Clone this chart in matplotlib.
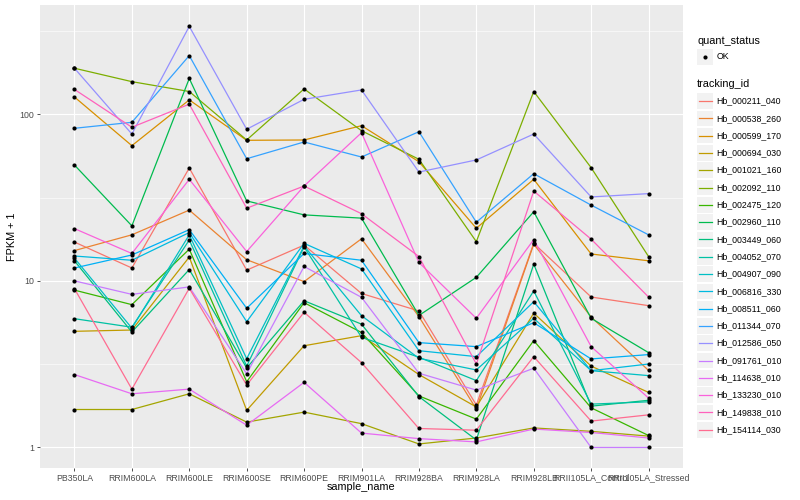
import matplotlib
matplotlib.use('Agg')
import matplotlib.pyplot as plt
from matplotlib.patches import Rectangle
from matplotlib.ticker import NullFormatter
import numpy as np

# ----------------------------------------------------------------------------------------------------------------------
# DATA (FPKM + 1)
# ----------------------------------------------------------------------------------------------------------------------

samples = ['PB350LA', 'RRIM600LA', 'RRIM600LE', 'RRIM600SE', 'RRIM600PE', 'RRIM901LA',
           'RRIM928BA', 'RRIM928LA', 'RRIM928LB', 'RRII105LA_Control', 'RRII105LA_Stressed']

hb_000211_040 = [17.1, 11.95, 47.6, 11.6, 16.4, 8.4, 6.6, 1.8, 16.8, 8.0, 7.1]
hb_000538_260 = [15.2, 18.9, 26.6, 13.4, 9.9, 17.9, 6.1, 1.7, 16.6, 6.07, 2.9]
hb_000599_170 = [127, 64.8, 122, 69.8, 70.1, 85.4, 51.9, 20.7, 40.7, 14.5, 13.2]
hb_000694_030 = [4.98, 5.07, 13.9, 1.67, 4.08, 4.69, 2.74, 1.75, 6.4, 3.08, 2.14]
hb_001021_160 = [1.69, 1.69, 2.10, 1.42, 1.63, 1.39, 1.05, 1.14, 1.31, 1.25, 1.17]
hb_002092_110 = [189, 157, 137, 70.1, 142, 79.7, 53.7, 17.2, 137, 47.8, 14.0]
hb_002475_120 = [8.8, 7.2, 15.5, 2.48, 7.4, 4.9, 2.04, 1.48, 4.38, 1.73, 1.18]
hb_002960_110 = [49.6, 21.4, 164, 30.2, 24.9, 23.8, 6.2, 10.5, 26.0, 5.96, 3.71]
hb_003449_060 = [13.2, 4.93, 11.7, 3.0, 7.6, 5.5, 2.02, 1.11, 12.6, 1.77, 1.92]
hb_004052_070 = [5.93, 5.27, 17.6, 3.08, 16.0, 4.59, 3.48, 2.52, 8.7, 1.82, 1.88]
hb_004907_090 = [13.7, 5.2, 18.9, 3.41, 16.2, 6.18, 3.43, 2.92, 5.96, 2.89, 2.70]
hb_006816_330 = [14.1, 13.3, 19.5, 5.69, 16.8, 11.8, 3.81, 3.51, 7.5, 2.89, 3.17]
hb_008511_060 = [11.95, 14.3, 20.3, 6.85, 14.6, 13.3, 4.26, 4.03, 5.61, 3.40, 3.61]
hb_011344_070 = [82.4, 89.5, 225, 54.1, 68.2, 55.4, 78.6, 22.5, 44.0, 28.5, 18.9]
hb_012586_050 = [189, 76.1, 337, 81.3, 123, 140, 45.0, 53.2, 76.1, 31.9, 33.4]
hb_091761_010 = [10.0, 8.3, 9.2, 2.77, 12.2, 7.97, 2.79, 2.21, 2.99, 1.0, 1.0]
hb_114638_010 = [2.74, 2.10, 2.24, 1.36, 2.46, 1.22, 1.13, 1.08, 1.29, 1.23, 1.14]
hb_133230_010 = [20.6, 14.6, 40.7, 15.0, 37.1, 77.5, 12.9, 5.96, 17.7, 4.03, 1.98]
hb_149838_010 = [141, 83.6, 115, 27.3, 37.1, 25.3, 14.0, 3.17, 34.6, 17.8, 8.0]
hb_154114_030 = [8.98, 2.24, 9.03, 2.37, 6.48, 3.23, 1.30, 1.27, 3.51, 1.44, 1.57]

tracking_ids = ['Hb_000211_040', 'Hb_000538_260', 'Hb_000599_170', 'Hb_000694_030', 'Hb_001021_160',
                'Hb_002092_110', 'Hb_002475_120', 'Hb_002960_110', 'Hb_003449_060', 'Hb_004052_070',
                'Hb_004907_090', 'Hb_006816_330', 'Hb_008511_060', 'Hb_011344_070', 'Hb_012586_050',
                'Hb_091761_010', 'Hb_114638_010', 'Hb_133230_010', 'Hb_149838_010', 'Hb_154114_030']
series = [hb_000211_040, hb_000538_260, hb_000599_170, hb_000694_030, hb_001021_160,
          hb_002092_110, hb_002475_120, hb_002960_110, hb_003449_060, hb_004052_070,
          hb_004907_090, hb_006816_330, hb_008511_060, hb_011344_070, hb_012586_050,
          hb_091761_010, hb_114638_010, hb_133230_010, hb_149838_010, hb_154114_030]

# ggplot default hue palette, 20 levels
colors = ['#F8766D', '#EA8331', '#D89000', '#C09B00', '#A3A500', '#7CAE00', '#39B600', '#00BB4E', '#00BF7D', '#00C1A3',
          '#00BFC4', '#00BAE0', '#00B0F6', '#35A2FF', '#9590FF', '#C77CFF', '#E76BF3', '#FA62DB', '#FF62BC', '#FF6C91']

# ----------------------------------------------------------------------------------------------------------------------
# PLOT
# ----------------------------------------------------------------------------------------------------------------------

plt.rcParams['font.family'] = ['Liberation Sans', 'DejaVu Sans']

fig = plt.figure(figsize=(8, 5), dpi=100)
ax = fig.add_axes([40 / 800, 32 / 500, 643 / 800, 462.7 / 500])
ax.set_facecolor('#EBEBEB')

x = np.arange(len(samples))
for col, vals in zip(colors, series):
    ax.plot(x, vals, color=col, linewidth=0.9, zorder=2)
for vals in series:
    ax.scatter(x, vals, s=9, color='black', linewidths=0, zorder=3)

ax.set_yscale('log')
ax.set_ylim(0.753, 451)
ax.set_xlim(-0.6, 10.6)
ax.set_xticks(x)
ax.set_xticklabels(samples)
ax.set_yticks([1, 10, 100])
ax.set_yticklabels(['1', '10', '100'])
ax.set_yticks([10 ** 0.5, 10 ** 1.5, 10 ** 2.5], minor=True)
ax.yaxis.set_minor_formatter(NullFormatter())
ax.tick_params(which='minor', length=0)
ax.tick_params(which='major', length=2.5, width=0.6, color='#333333', labelcolor='#4D4D4D', labelsize=6.3, pad=1.5)
ax.grid(which='major', color='white', linewidth=0.8)
ax.grid(which='minor', axis='y', color='white', linewidth=0.4)
ax.set_axisbelow(True)
for s in ax.spines.values():
    s.set_visible(False)

ax.set_xlabel('sample_name', fontsize=7.8, color='black')
ax.xaxis.set_label_coords(0.5, -0.041)
ax.xaxis.label.set_va('center')
ax.set_ylabel('FPKM + 1', fontsize=7.8, color='black')
ax.yaxis.set_label_coords(-0.0435, 0.5)
ax.yaxis.label.set_va('center')
ax.yaxis.label.set_ha('center')

# Legends --------------------------------------------------------------------------------------------------------------
lax = fig.add_axes([0, 0, 1, 1], facecolor='none')
lax.set_xlim(0, 800)
lax.set_ylim(500, 0)
lax.axis('off')

lax.text(697, 40.7, 'quant_status', fontsize=7.8, ha='left', va='center')
lax.add_patch(Rectangle((697, 49), 16, 15.6, color='#F2F2F2', linewidth=0))
lax.scatter([705], [56.8], s=9, color='black', linewidths=0)
lax.text(716.7, 56.8, 'OK', fontsize=6.3, ha='left', va='center')

lax.text(697, 84.3, 'tracking_id', fontsize=7.8, ha='left', va='center')
for i, (tid, col) in enumerate(zip(tracking_ids, colors)):
    yc = 101 + 17.3 * i
    lax.add_patch(Rectangle((697, yc - 7.8), 16, 15.6, color='#F2F2F2', linewidth=0))
    lax.plot([698.5, 711.5], [yc, yc], color=col, linewidth=0.9)
    lax.text(716.7, yc, tid, fontsize=6.3, ha='left', va='center')

plt.savefig('out.png', dpi=100)
